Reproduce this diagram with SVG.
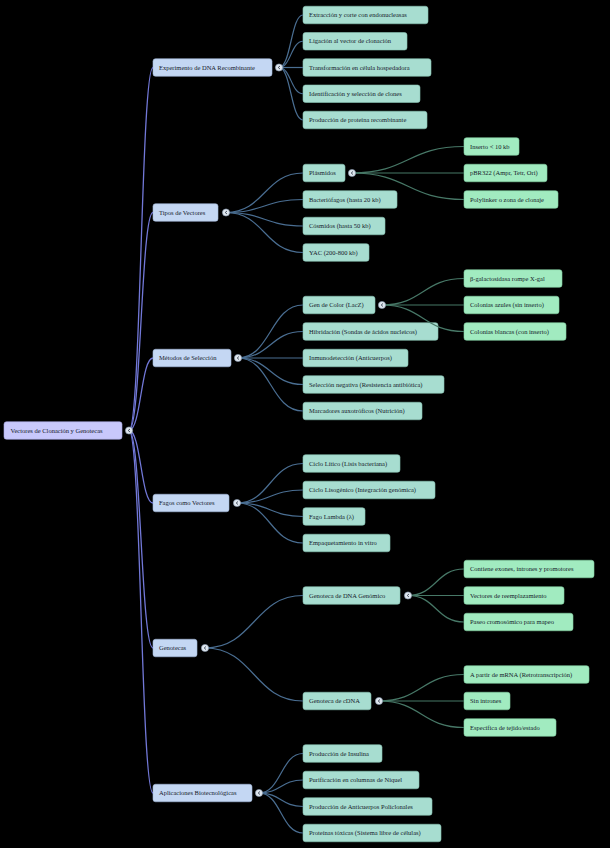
<svg xmlns="http://www.w3.org/2000/svg" width="610" height="848" viewBox="0 0 610 848">
<style>
.bg{fill:#000}
rect.n0{fill:#c8c8fb;stroke:#a9a9e6;stroke-width:0.6}
rect.n1{fill:#c4d7f3;stroke:#a3b9da;stroke-width:0.6}
rect.n2{fill:#a7ddd0;stroke:#88c2b3;stroke-width:0.6}
rect.n3{fill:#a1ebc0;stroke:#83d0a3;stroke-width:0.6}
text{font-family:"Liberation Serif","Times New Roman",serif;font-size:6.5px;fill:#15192a}
.c0{fill:none;stroke:#7278d8;stroke-width:1.3}
.c1{fill:none;stroke:#4a6e92;stroke-width:1.2}
.c2{fill:none;stroke:#477867;stroke-width:1.2}
.tg circle{fill:#dfe7ef;stroke:#8a9bb0;stroke-width:0.6}
.tg polyline{fill:none;stroke:#2a3345;stroke-width:0.8}
</style>
<rect class="bg" x="0" y="0" width="610" height="848"/>

<g id="nodes">
<g id="root"><rect class="n0" x="4" y="421.75" width="118" height="17.5" rx="2.5"/><text x="10.5" y="432.7">Vectores de Clonación y Genotecas</text></g>

<g id="exp"><rect class="n1" x="153" y="58.75" width="119" height="17.5" rx="2.5"/><text x="159" y="69.7">Experimento de DNA Recombinante</text></g>
<g id="tipos"><rect class="n1" x="153" y="203.75" width="65" height="17.5" rx="2.5"/><text x="159" y="214.7">Tipos de Vectores</text></g>
<g id="metodos"><rect class="n1" x="153" y="349.25" width="78" height="17.5" rx="2.5"/><text x="159" y="360.2">Métodos de Selección</text></g>
<g id="fagos"><rect class="n1" x="153" y="494.25" width="76" height="17.5" rx="2.5"/><text x="159" y="505.2">Fagos como Vectores</text></g>
<g id="genotecas"><rect class="n1" x="153" y="639.25" width="44" height="17.5" rx="2.5"/><text x="159" y="650.2">Genotecas</text></g>
<g id="aplic"><rect class="n1" x="153" y="784.25" width="99" height="17.5" rx="2.5"/><text x="159" y="795.2">Aplicaciones Biotecnológicas</text></g>

<g id="exp1"><rect class="n2" x="303" y="6.25" width="125" height="17.5" rx="2.5"/><text x="309" y="17.2">Extracción y corte con endonucleasas</text></g>
<g id="exp2"><rect class="n2" x="303" y="32.5" width="104" height="17.5" rx="2.5"/><text x="309" y="43.45">Ligación al vector de clonación</text></g>
<g id="exp3"><rect class="n2" x="303" y="58.75" width="128" height="17.5" rx="2.5"/><text x="309" y="69.7">Transformación en célula hospedadora</text></g>
<g id="exp4"><rect class="n2" x="303" y="85" width="117" height="17.5" rx="2.5"/><text x="309" y="95.95">Identificación y selección de clones</text></g>
<g id="exp5"><rect class="n2" x="303" y="111.25" width="124" height="17.5" rx="2.5"/><text x="309" y="122.2">Producción de proteína recombinante</text></g>

<g id="plasmidos"><rect class="n2" x="303" y="164.25" width="42" height="17.5" rx="2.5"/><text x="309" y="175.2">Plásmidos</text></g>
<g id="bacteriofagos"><rect class="n2" x="303" y="190.75" width="94" height="17.5" rx="2.5"/><text x="309" y="201.7">Bacteriófagos (hasta 20 kb)</text></g>
<g id="cosmidos"><rect class="n2" x="303" y="217.25" width="82" height="17.5" rx="2.5"/><text x="309" y="228.2">Cósmidos (hasta 50 kb)</text></g>
<g id="yac"><rect class="n2" x="303" y="243.75" width="66" height="17.5" rx="2.5"/><text x="309" y="254.7">YAC (200-800 kb)</text></g>

<g id="pl1"><rect class="n3" x="464" y="137.75" width="55" height="17.5" rx="2.5"/><text x="470" y="148.7">Inserto &lt; 10 kb</text></g>
<g id="pl2"><rect class="n3" x="464" y="164.25" width="83" height="17.5" rx="2.5"/><text x="470" y="175.2">pBR322 (Ampr, Tetr, Ori)</text></g>
<g id="pl3"><rect class="n3" x="464" y="190.75" width="94" height="17.5" rx="2.5"/><text x="470" y="201.7">Polylinker o zona de clonaje</text></g>

<g id="lacz"><rect class="n2" x="303" y="296.25" width="72" height="17.5" rx="2.5"/><text x="309" y="307.2">Gen de Color (LacZ)</text></g>
<g id="hibrid"><rect class="n2" x="303" y="322.75" width="135" height="17.5" rx="2.5"/><text x="309" y="333.7">Hibridación (Sondas de ácidos nucleicos)</text></g>
<g id="inmuno"><rect class="n2" x="303" y="349.25" width="105" height="17.5" rx="2.5"/><text x="309" y="360.2">Inmunodetección (Anticuerpos)</text></g>
<g id="selneg"><rect class="n2" x="303" y="375.75" width="141" height="17.5" rx="2.5"/><text x="309" y="386.7">Selección negativa (Resistencia antibiótica)</text></g>
<g id="marcad"><rect class="n2" x="303" y="402.25" width="119" height="17.5" rx="2.5"/><text x="309" y="413.2">Marcadores auxotróficos (Nutrición)</text></g>

<g id="lz1"><rect class="n3" x="464" y="269.75" width="98" height="17.5" rx="2.5"/><text x="470" y="280.7">β-galactosidasa rompe X-gal</text></g>
<g id="lz2"><rect class="n3" x="464" y="296.25" width="95" height="17.5" rx="2.5"/><text x="470" y="307.2">Colonias azules (sin inserto)</text></g>
<g id="lz3"><rect class="n3" x="464" y="322.75" width="102" height="17.5" rx="2.5"/><text x="470" y="333.7">Colonias blancas (con inserto)</text></g>

<g id="fg1"><rect class="n2" x="303" y="454.75" width="97" height="17.5" rx="2.5"/><text x="309" y="465.7">Ciclo Lítico (Lisis bacteriana)</text></g>
<g id="fg2"><rect class="n2" x="303" y="481.25" width="132" height="17.5" rx="2.5"/><text x="309" y="492.2">Ciclo Lisogénico (Integración genómica)</text></g>
<g id="fg3"><rect class="n2" x="303" y="507.75" width="62" height="17.5" rx="2.5"/><text x="309" y="518.7">Fago Lambda (λ)</text></g>
<g id="fg4"><rect class="n2" x="303" y="534.25" width="87" height="17.5" rx="2.5"/><text x="309" y="545.2">Empaquetamiento in vitro</text></g>

<g id="gdna"><rect class="n2" x="303" y="586.75" width="97" height="17.5" rx="2.5"/><text x="309" y="597.7">Genoteca de DNA Genómico</text></g>
<g id="gcdna"><rect class="n2" x="303" y="692.25" width="68" height="17.5" rx="2.5"/><text x="309" y="703.2">Genoteca de cDNA</text></g>

<g id="gd1"><rect class="n3" x="464" y="560.25" width="130" height="17.5" rx="2.5"/><text x="470" y="571.2">Contiene exones, intrones y promotores</text></g>
<g id="gd2"><rect class="n3" x="464" y="586.75" width="100" height="17.5" rx="2.5"/><text x="470" y="597.7">Vectores de reemplazamiento</text></g>
<g id="gd3"><rect class="n3" x="464" y="613.25" width="109" height="17.5" rx="2.5"/><text x="470" y="624.2">Paseo cromosómico para mapeo</text></g>

<g id="gc1"><rect class="n3" x="464" y="665.75" width="125" height="17.5" rx="2.5"/><text x="470" y="676.7">A partir de mRNA (Retrotranscripción)</text></g>
<g id="gc2"><rect class="n3" x="464" y="692.25" width="46" height="17.5" rx="2.5"/><text x="470" y="703.2">Sin intrones</text></g>
<g id="gc3"><rect class="n3" x="464" y="718.75" width="92" height="17.5" rx="2.5"/><text x="470" y="729.7">Específica de tejido/estado</text></g>

<g id="ap1"><rect class="n2" x="303" y="744.75" width="79" height="17.5" rx="2.5"/><text x="309" y="755.7">Producción de Insulina</text></g>
<g id="ap2"><rect class="n2" x="303" y="771.25" width="116" height="17.5" rx="2.5"/><text x="309" y="782.2">Purificación en columnas de Níquel</text></g>
<g id="ap3"><rect class="n2" x="303" y="797.75" width="129" height="17.5" rx="2.5"/><text x="309" y="808.7">Producción de Anticuerpos Policlonales</text></g>
<g id="ap4"><rect class="n2" x="303" y="824.25" width="138" height="17.5" rx="2.5"/><text x="309" y="835.2">Proteínas tóxicas (Sistema libre de células)</text></g>
</g>

<g id="connectors">
<path class="c0" d="M129,430.5 C141,430.5 141,67.5 153,67.5"/>
<path class="c0" d="M129,430.5 C141,430.5 141,212.5 153,212.5"/>
<path class="c0" d="M129,430.5 C141,430.5 141,358 153,358"/>
<path class="c0" d="M129,430.5 C141,430.5 141,503 153,503"/>
<path class="c0" d="M129,430.5 C141,430.5 141,648 153,648"/>
<path class="c0" d="M129,430.5 C141,430.5 141,793 153,793"/>

<path class="c1" d="M279,67.5 C291,67.5 291,15 303,15"/>
<path class="c1" d="M279,67.5 C291,67.5 291,41.25 303,41.25"/>
<path class="c1" d="M279,67.5 C291,67.5 291,67.5 303,67.5"/>
<path class="c1" d="M279,67.5 C291,67.5 291,93.75 303,93.75"/>
<path class="c1" d="M279,67.5 C291,67.5 291,120 303,120"/>

<path class="c1" d="M226,212.5 C264.5,212.5 264.5,173 303,173"/>
<path class="c1" d="M226,212.5 C264.5,212.5 264.5,199.5 303,199.5"/>
<path class="c1" d="M226,212.5 C264.5,212.5 264.5,226 303,226"/>
<path class="c1" d="M226,212.5 C264.5,212.5 264.5,252.5 303,252.5"/>

<path class="c1" d="M238,358 C270.5,358 270.5,305 303,305"/>
<path class="c1" d="M238,358 C270.5,358 270.5,331.5 303,331.5"/>
<path class="c1" d="M238,358 C270.5,358 270.5,358 303,358"/>
<path class="c1" d="M238,358 C270.5,358 270.5,384.5 303,384.5"/>
<path class="c1" d="M238,358 C270.5,358 270.5,411 303,411"/>

<path class="c1" d="M237,503 C270,503 270,463.5 303,463.5"/>
<path class="c1" d="M237,503 C270,503 270,490 303,490"/>
<path class="c1" d="M237,503 C270,503 270,516.5 303,516.5"/>
<path class="c1" d="M237,503 C270,503 270,543 303,543"/>

<path class="c1" d="M205,648 C254,648 254,595.5 303,595.5"/>
<path class="c1" d="M205,648 C254,648 254,701 303,701"/>

<path class="c1" d="M259,793 C281,793 281,753.5 303,753.5"/>
<path class="c1" d="M259,793 C281,793 281,780 303,780"/>
<path class="c1" d="M259,793 C281,793 281,806.5 303,806.5"/>
<path class="c1" d="M259,793 C281,793 281,833 303,833"/>

<path class="c2" d="M352,173 C408,173 408,146.5 464,146.5"/>
<path class="c2" d="M352,173 C408,173 408,173 464,173"/>
<path class="c2" d="M352,173 C408,173 408,199.5 464,199.5"/>

<path class="c2" d="M382,305 C423,305 423,278.5 464,278.5"/>
<path class="c2" d="M382,305 C423,305 423,305 464,305"/>
<path class="c2" d="M382,305 C423,305 423,331.5 464,331.5"/>

<path class="c2" d="M408,595.5 C436,595.5 436,569 464,569"/>
<path class="c2" d="M408,595.5 C436,595.5 436,595.5 464,595.5"/>
<path class="c2" d="M408,595.5 C436,595.5 436,622 464,622"/>

<path class="c2" d="M379,701 C421.5,701 421.5,674.5 464,674.5"/>
<path class="c2" d="M379,701 C421.5,701 421.5,701 464,701"/>
<path class="c2" d="M379,701 C421.5,701 421.5,727.5 464,727.5"/>
</g>

<g id="toggles" class="tg">
<circle cx="129" cy="430.5" r="3.6"/><polyline points="130,429 128.2,430.5 130,432"/>
<circle cx="279" cy="67.5" r="3.6"/><polyline points="280,66 278.2,67.5 280,69"/>
<circle cx="226" cy="212.5" r="3.6"/><polyline points="227,211 225.2,212.5 227,214"/>
<circle cx="238" cy="358" r="3.6"/><polyline points="239,356.5 237.2,358 239,359.5"/>
<circle cx="237" cy="503" r="3.6"/><polyline points="238,501.5 236.2,503 238,504.5"/>
<circle cx="205" cy="648" r="3.6"/><polyline points="206,646.5 204.2,648 206,649.5"/>
<circle cx="259" cy="793" r="3.6"/><polyline points="260,791.5 258.2,793 260,794.5"/>
<circle cx="352" cy="173" r="3.6"/><polyline points="353,171.5 351.2,173 353,174.5"/>
<circle cx="382" cy="305" r="3.6"/><polyline points="383,303.5 381.2,305 383,306.5"/>
<circle cx="408" cy="595.5" r="3.6"/><polyline points="409,594 407.2,595.5 409,597"/>
<circle cx="379" cy="701" r="3.6"/><polyline points="380,699.5 378.2,701 380,702.5"/>
</g>
</svg>
